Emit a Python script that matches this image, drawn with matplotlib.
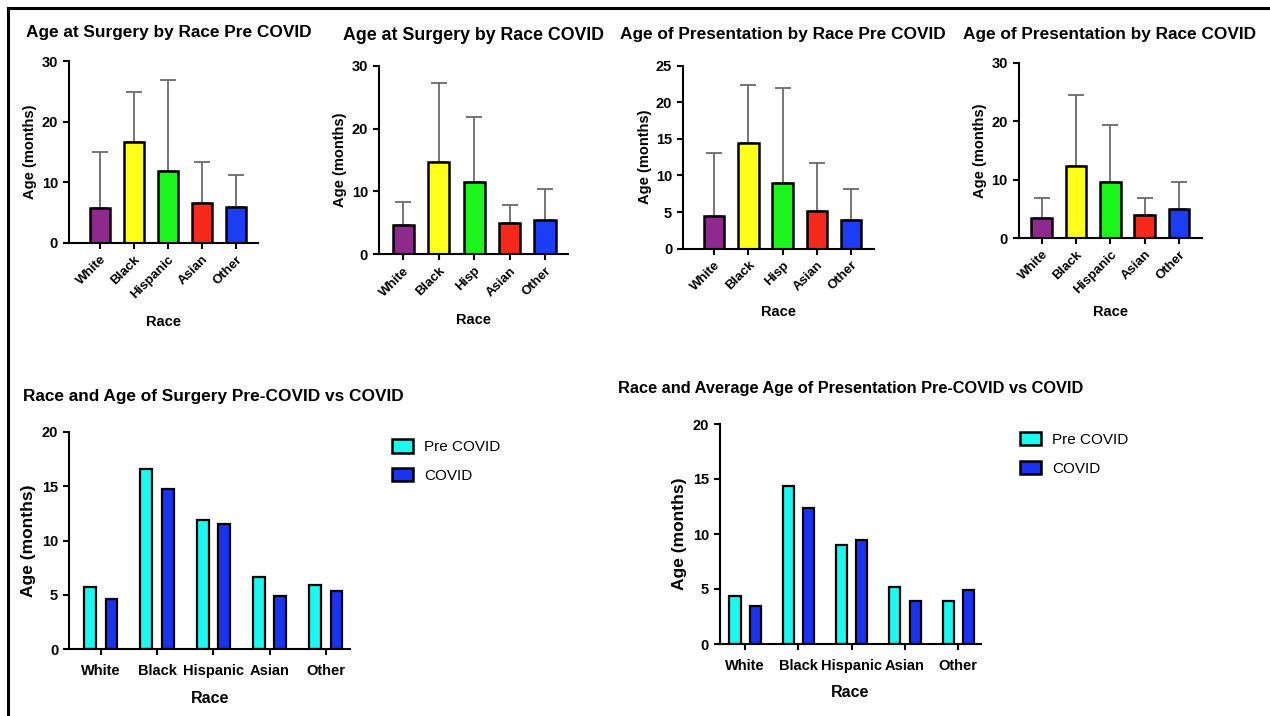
import matplotlib
matplotlib.use('Agg')
import matplotlib.pyplot as plt
import numpy as np
from matplotlib.patches import Patch
from matplotlib.lines import Line2D

plt.rcParams['font.family'] = ['Liberation Sans', 'DejaVu Sans']

races = ['White', 'Black', 'Hispanic', 'Asian', 'Other']
races_short = ['White', 'Black', 'Hisp', 'Asian', 'Other']
race_colors = ['#8E2A8E', '#FFFF1C', '#1CF51C', '#F52A1C', '#1C3CF5']

surgery_pre_mean = [5.7, 16.6, 11.9, 6.6, 5.9]
surgery_pre_sd = [9.3, 8.3, 14.9, 6.8, 5.3]
surgery_covid_mean = [4.6, 14.7, 11.5, 4.9, 5.4]
surgery_covid_sd = [3.7, 12.6, 10.4, 3.0, 5.0]
present_pre_mean = [4.4, 14.4, 9.0, 5.2, 3.9]
present_pre_sd = [8.7, 8.0, 12.9, 6.5, 4.3]
present_covid_mean = [3.5, 12.4, 9.5, 3.9, 4.9]
present_covid_sd = [3.3, 12.0, 9.9, 3.0, 4.7]

period_labels = ['Pre COVID', 'COVID']
period_colors = ['#1CF8F0', '#1A33F0']

W, H = 1270, 716
fig = plt.figure(figsize=(W / 100, H / 100), dpi=100)


def px_rect(x0, x1, ytop, ybot):
    # axes rectangle from pixel coordinates (top-left origin)
    return [x0 / W, 1 - ybot / H, (x1 - x0) / W, (ybot - ytop) / H]


def style_axes(ax, tick_size, lw=1.5):
    for side in ('top', 'right'):
        ax.spines[side].set_visible(False)
    for side in ('left', 'bottom'):
        ax.spines[side].set_linewidth(lw)
    ax.tick_params(axis='both', width=lw, length=4.5, labelsize=tick_size)
    for lab in ax.get_yticklabels():
        lab.set_fontweight('bold')


def race_panel(rect, title, title_x, title_y, title_size, means, sds, labels,
               ymax, ystep, xlim, race_y):
    ax = fig.add_axes(rect)
    x = np.arange(len(means))
    ax.errorbar(x, means, yerr=[np.zeros(len(sds)), sds], fmt='none',
                ecolor='#6a6a6a', elinewidth=1.3, capsize=6, capthick=1.3,
                zorder=1)
    ax.bar(x, means, width=0.6, color=race_colors, edgecolor='black',
           linewidth=1.8, zorder=2)
    ax.set_xlim(*xlim)
    ax.set_ylim(0, ymax)
    ax.set_yticks(np.arange(0, ymax + 0.1, ystep))
    ax.set_xticks(x)
    ax.set_xticklabels(labels, rotation=45, ha='right', rotation_mode='anchor',
                       fontweight='bold', fontsize=9.5)
    style_axes(ax, 10.5)
    ax.tick_params(axis='x', pad=3, labelsize=9.5)
    ax.set_ylabel('Age (months)', fontsize=10.5, fontweight='bold', labelpad=3)
    ax.set_xlabel('Race', fontsize=10.5, fontweight='bold')
    ax.xaxis.set_label_coords(0.5, race_y)
    fig.text(title_x / W, 1 - title_y / H, title, ha='left', va='center',
             fontsize=title_size, fontweight='bold')
    return ax


def compare_panel(rect, title, title_x, title_y, title_size, pre, covid, xlim,
                  race_y, legend_xy):
    ax = fig.add_axes(rect)
    x = np.arange(len(pre))
    ax.bar(x - 0.19, pre, width=0.21, color=period_colors[0],
           edgecolor='black', linewidth=1.6)
    ax.bar(x + 0.19, covid, width=0.21, color=period_colors[1],
           edgecolor='black', linewidth=1.6)
    ax.set_xlim(*xlim)
    ax.set_ylim(0, 20)
    ax.set_yticks([0, 5, 10, 15, 20])
    ax.set_xticks(x)
    ax.set_xticklabels(races, fontweight='bold', fontsize=10.5)
    style_axes(ax, 10.5)
    ax.tick_params(axis='x', pad=6)
    ax.set_ylabel('Age (months)', fontsize=12.5, fontweight='bold', labelpad=4)
    ax.set_xlabel('Race', fontsize=11.5, fontweight='bold')
    ax.xaxis.set_label_coords(0.5, race_y)
    fig.text(title_x / W, 1 - title_y / H, title, ha='left', va='center',
             fontsize=title_size, fontweight='bold')
    handles = [Patch(facecolor=c, edgecolor='black', linewidth=1.8)
               for c in period_colors]
    ax.legend(handles, period_labels, loc='upper left',
              bbox_to_anchor=(legend_xy[0] / W, 1 - legend_xy[1] / H),
              bbox_transform=fig.transFigure, frameon=False, fontsize=11,
              handlelength=1.4, handleheight=1.0, labelspacing=0.9,
              handletextpad=0.7, borderpad=0, borderaxespad=0)
    return ax


race_panel(px_rect(69, 258, 61, 243), 'Age at Surgery by Race Pre COVID',
           26, 33, 12.4, surgery_pre_mean, surgery_pre_sd, races, 30, 10,
           (-0.91, 4.65), -0.396)
race_panel(px_rect(379, 568, 65.7, 254.3), 'Age at Surgery by Race COVID',
           343, 35, 12.8, surgery_covid_mean, surgery_covid_sd, races_short,
           30, 10, (-0.69, 4.65), -0.311)
race_panel(px_rect(683.3, 874, 65.7, 248.7), 'Age of Presentation by Race Pre COVID',
           620, 35, 12.4, present_pre_mean, present_pre_sd, races_short, 25, 5,
           (-0.9, 4.67), -0.308)
race_panel(px_rect(1018.7, 1201.7, 62.7, 238), 'Age of Presentation by Race COVID',
           963, 35, 12.4, present_covid_mean, present_covid_sd, races, 30, 10,
           (-0.67, 4.66), -0.382)

compare_panel(px_rect(69.3, 350, 431.7, 649.3),
              'Race and Age of Surgery Pre-COVID vs COVID', 23, 396, 12.4,
              surgery_pre_mean, surgery_covid_mean, (-0.56, 4.43), -0.192,
              (391.7, 439))
compare_panel(px_rect(720, 980.7, 424, 644),
              'Race and Average Age of Presentation Pre-COVID vs COVID', 618, 388,
              11.8, present_pre_mean, present_covid_mean, (-0.47, 4.42), -0.186,
              (1020, 431.7))

# frame lines along the left and top edges
fig.add_artist(Line2D([8 / W, 8 / W], [0, 1 - 8 / H], color='black', lw=2.2))
fig.add_artist(Line2D([8 / W, 1], [1 - 8 / H, 1 - 8 / H], color='black', lw=2.2))

fig.savefig('out.png', dpi=100)
